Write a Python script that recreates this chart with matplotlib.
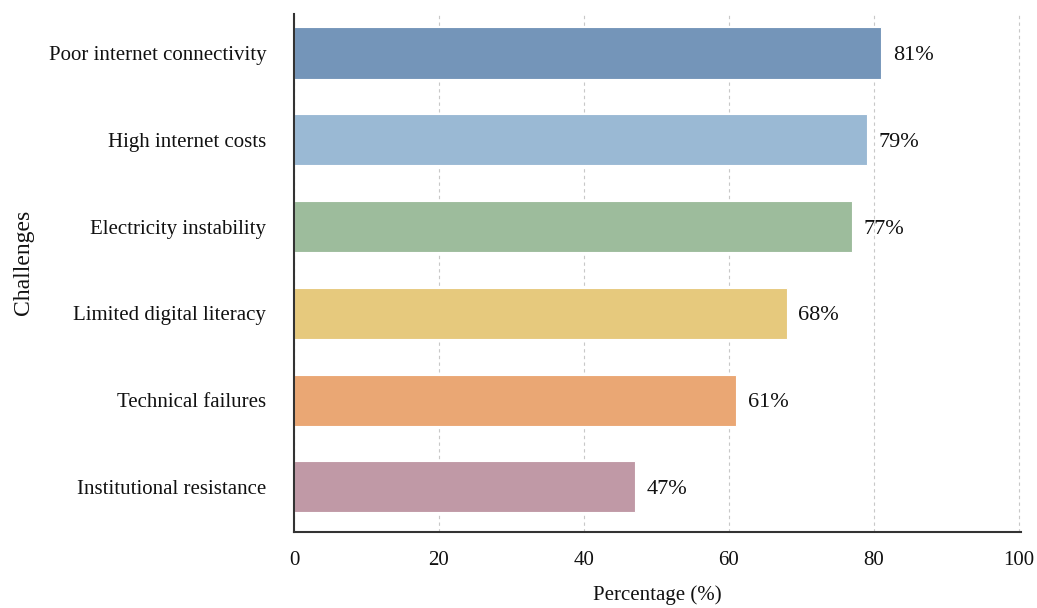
import matplotlib
matplotlib.use("Agg")
import matplotlib.pyplot as plt

challenges = [
    "Poor internet connectivity",
    "High internet costs",
    "Electricity instability",
    "Limited digital literacy",
    "Technical failures",
    "Institutional resistance",
]
percentages = [81, 79, 77, 68, 61, 47]
colors = ["#7495b9", "#9ab9d4", "#9dbc9c", "#e6c97d", "#eaa774", "#c099a6"]
x_ticks = [0, 20, 40, 60, 80, 100]

plt.rcParams["font.family"] = ["Liberation Serif", "DejaVu Serif"]

fig = plt.figure(figsize=(10.37, 6.08), dpi=100)
ax = fig.add_axes([294 / 1037, 1 - 532 / 608, (1021 - 294) / 1037, (532 - 14) / 608])

n = len(challenges)
ypos = list(range(n - 1, -1, -1))
ax.barh(ypos, percentages, height=0.59, color=colors, edgecolor="white",
        linewidth=0.8, zorder=3)

for y, v in zip(ypos, percentages):
    ax.text(v + 1.6, y, f"{v}%", va="center_baseline", ha="left", fontsize=16,
            color="#111111")

ax.set_yticks(ypos)
ax.set_yticklabels(challenges, fontsize=15, color="#111111")
ax.set_xticks(x_ticks)
ax.set_xticklabels([str(t) for t in x_ticks], fontsize=15, color="#111111")
ax.set_xlim(0, 100.3)
ax.set_ylim(-0.52, n - 1 + 0.45)

ax.tick_params(axis="y", length=0, pad=20)
ax.tick_params(axis="x", length=0, pad=14)

ax.grid(axis="x", linestyle=(0, (3, 3)), color="#c8c8c8", linewidth=0.8, zorder=0)
ax.set_axisbelow(True)

for side in ("top", "right"):
    ax.spines[side].set_visible(False)
for side in ("left", "bottom"):
    ax.spines[side].set_color("#333333")
    ax.spines[side].set_linewidth(1.5)
    ax.spines[side].set_zorder(5)

ax.set_xlabel("Percentage (%)", fontsize=15, labelpad=11, color="#111111")
ax.set_ylabel("Challenges", fontsize=17, color="#111111")
ax.yaxis.set_label_coords(-0.357, 0.52)

fig.savefig("out.png", dpi=100, facecolor="white")
